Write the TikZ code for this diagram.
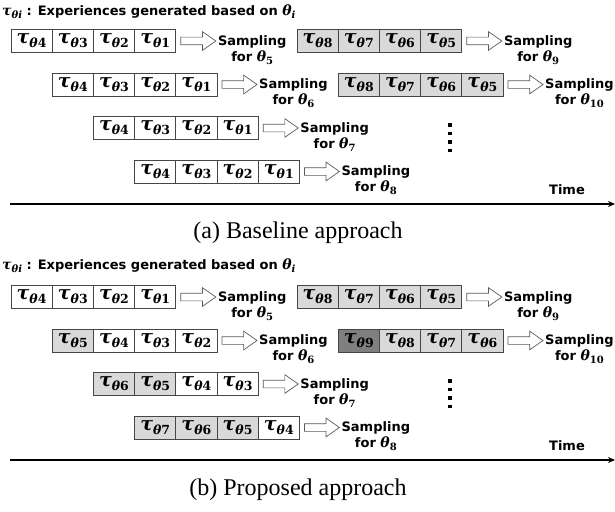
\documentclass[tikz,border=0pt]{standalone}
\usepackage[no-math]{fontspec}
\setmainfont{DejaVu Sans}
\newfontfamily\capfont{Liberation Serif}
\newfontfamily\grk{DejaVu Serif}
\usetikzlibrary{shapes.arrows,calc,arrows.meta}
\definecolor{cellgray}{RGB}{217,217,217}
\definecolor{darkcell}{RGB}{127,127,127}
\definecolor{edgegray}{RGB}{70,70,70}
\definecolor{arrgray}{RGB}{90,90,90}
% tau_{theta k} in a cell
\newcommand\tcell[1]{{\grk\bfseries\itshape\fontsize{19}{19}\selectfont τ\raisebox{-4pt}{\fontsize{12.5}{12.5}\selectfont θ\upshape #1}}}
% theta_k in a label
\newcommand\thl[1]{{\grk\bfseries\itshape\fontsize{14}{14}\selectfont θ\raisebox{-3pt}{\fontsize{10}{10}\selectfont\upshape #1}}}
% title symbols
\newcommand\ttau{{\grk\bfseries\itshape\fontsize{14}{14}\selectfont τ\raisebox{-3pt}{\fontsize{10}{10}\selectfont θi}}}
\newcommand\tthi{{\grk\bfseries\itshape\fontsize{14}{14}\selectfont θ\raisebox{-3pt}{\fontsize{10}{10}\selectfont i}}}
\tikzset{
 cell/.style={draw=edgegray, line width=0.8pt, minimum width=41.2pt, minimum height=23pt, inner sep=0pt, outer sep=0pt},
 wc/.style={fill=white},
 gc/.style={fill=cellgray},
 dc/.style={fill=darkcell},
 barrow/.style={single arrow, draw=arrgray, fill=white, line width=0.7pt, minimum height=35pt, single arrow head extend=5.5pt, single arrow tip angle=70, inner xsep=0pt, inner ysep=3.5pt, text height=0pt, text depth=0pt, outer sep=0pt},
 samp/.style={align=center, font=\fontsize{13}{16}\selectfont\bfseries, inner sep=0pt},
 ttl/.style={anchor=west, inner sep=0pt, font=\fontsize{13}{16}\selectfont\bfseries},
 captext/.style={inner sep=0pt, font=\capfont\fontsize{24}{28}\selectfont},
 timeax/.style={line width=2.2pt, -{Stealth[length=7pt,width=6pt]}},
}
\newcommand\bufrow[4]{%
  \foreach \ci/\cs [count=\k] in {#3} {
    \node[cell,\cs,anchor=west] (#1c\k) at ($(#2)+({(\k-1)*41.2},0)$) {\tcell{\ci}};
  }
  \node[barrow,anchor=tail] (#1a) at ($(#1c4.east)+(5,0)$) {};
  \node[samp,anchor=west] (#1s) at ($(#1a.tip)+(2,9)$) {Sampling\\for \thl{#4}};
}
\newcommand\vdotsq[2]{%
  \foreach \d in {0,1,2,3} {\fill (#1,{#2+\d*8.5}) rectangle ++(3.5,3.5);}
}
\begin{document}
\begin{tikzpicture}[x=1pt,y=-1pt]
\useasboundingbox (0,0) rectangle (615,511);
% ---------- (a) ----------
\node[ttl] (ttlA) at (2,12) {\ttau\ : Experiences generated based on \tthi};
\bufrow{aA}{11,41}{4/wc,3/wc,2/wc,1/wc}{5}
\bufrow{aB}{52.2,84.5}{4/wc,3/wc,2/wc,1/wc}{6}
\bufrow{aC}{93.4,128}{4/wc,3/wc,2/wc,1/wc}{7}
\bufrow{aD}{134.6,171.5}{4/wc,3/wc,2/wc,1/wc}{8}
\bufrow{aE}{297,41}{8/gc,7/gc,6/gc,5/gc}{9}
\bufrow{aF}{338.2,84.5}{8/gc,7/gc,6/gc,5/gc}{10}
\vdotsq{448.3}{123}
\coordinate (axAL) at (10,204);
\coordinate (axAR) at (615,204);
\draw[timeax] (axAL) -- (axAR);
\node[samp] (timeA) at (567,190) {Time};
\node[captext] (capA) at (298,233) {(a) Baseline approach};
% ---------- (b) ----------
\node[ttl] (ttlB) at (2,266) {\ttau\ : Experiences generated based on \tthi};
\bufrow{bA}{11,297}{4/wc,3/wc,2/wc,1/wc}{5}
\bufrow{bB}{52.2,340.5}{5/gc,4/wc,3/wc,2/wc}{6}
\bufrow{bC}{93.4,384}{6/gc,5/gc,4/wc,3/wc}{7}
\bufrow{bD}{134.6,427.5}{7/gc,6/gc,5/gc,4/wc}{8}
\bufrow{bE}{297,297}{8/gc,7/gc,6/gc,5/gc}{9}
\bufrow{bF}{338.2,340.5}{9/dc,8/gc,7/gc,6/gc}{10}
\vdotsq{448.3}{379}
\coordinate (axBL) at (10,460);
\coordinate (axBR) at (615,460);
\draw[timeax] (axBL) -- (axBR);
\node[samp] (timeB) at (567,446) {Time};
\node[captext] (capB) at (298,490) {(b) Proposed approach};
\end{tikzpicture}
\end{document}
